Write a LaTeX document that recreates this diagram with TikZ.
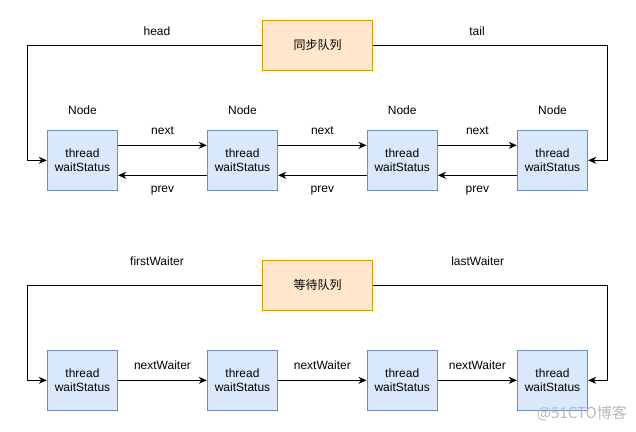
\documentclass[tikz,border=0pt]{standalone}
\usepackage{fontspec}
\setmainfont{Liberation Sans}
\newfontfamily\cjk{Noto Sans CJK SC}
\usetikzlibrary{arrows.meta,calc}
\definecolor{bfill}{HTML}{DAE8FC}
\definecolor{bdraw}{HTML}{6C8EBF}
\definecolor{ofill}{HTML}{FFE6CC}
\definecolor{odraw}{HTML}{D79B00}
\begin{document}
\begin{tikzpicture}[x=1pt,y=-1pt,
  every node/.style={font=\fontsize{12}{14}\selectfont},
  nodebox/.style={draw=bdraw,fill=bfill,line width=1pt,minimum width=70.4pt,minimum height=60pt,inner sep=0pt,align=center},
  queuebox/.style={draw=odraw,fill=ofill,line width=1pt,minimum width=110.4pt,minimum height=50pt,inner sep=0pt,font=\cjk\fontsize{12}{14}\selectfont},
  lbl/.style={inner sep=0pt},
  arr/.style={line width=1pt,-{Stealth[length=8pt,width=7pt,inset=2.5pt]}}
]
\useasboundingbox (0,0) rectangle (636,431);
% top queue
\node[queuebox] (q1) at (317.5,45.3) {同步队列};
\node[nodebox] (a1) at (82.5,160.3) {thread\\waitStatus};
\node[nodebox] (a2) at (242.5,160.3) {thread\\waitStatus};
\node[nodebox] (a3) at (402.2,160.3) {thread\\waitStatus};
\node[nodebox] (a4) at (552.5,160.3) {thread\\waitStatus};
\foreach \i in {1,2,3,4} {\node[lbl] (n\i) at ([yshift=50pt]a\i.center) {Node};}
\coordinate (h1) at (27.3,45.3);
\coordinate (h2) at (27.3,160.3);
\coordinate (t1) at (607.7,45.3);
\coordinate (t2) at (607.7,160.3);
\draw[arr] (q1.west) -- (h1) -- (h2) -- (a1.west);
\draw[arr] (q1.east) -- (t1) -- (t2) -- (a4.east);
\node[lbl] (lh) at (157,31) {head};
\node[lbl] (lt) at (477,31) {tail};
\foreach \i/\j in {1/2,2/3,3/4} {
  \draw[arr] ([yshift=15pt]a\i.east) -- ([yshift=15pt]a\j.west);
  \draw[arr] ([yshift=-15pt]a\j.west) -- ([yshift=-15pt]a\i.east);
  \node[lbl] (nx\i) at ($([yshift=29.6pt]a\i.east)!0.5!([yshift=29.6pt]a\j.west)$) {next};
  \node[lbl] (pv\i) at ($([yshift=-30.7pt]a\i.east)!0.5!([yshift=-30.7pt]a\j.west)$) {prev};
}
% bottom queue
\node[queuebox] (q2) at (317.5,285.3) {等待队列};
\node[nodebox] (b1) at (82.5,380.3) {thread\\waitStatus};
\node[nodebox] (b2) at (242.5,380.3) {thread\\waitStatus};
\node[nodebox] (b3) at (402.2,380.3) {thread\\waitStatus};
\node[nodebox] (b4) at (552.5,380.3) {thread\\waitStatus};
\coordinate (f1) at (27.3,285.3);
\coordinate (f2) at (27.3,380.3);
\coordinate (l1) at (607.7,285.3);
\coordinate (l2) at (607.7,380.3);
\draw[arr] (q2.west) -- (f1) -- (f2) -- (b1.west);
\draw[arr] (q2.east) -- (l1) -- (l2) -- (b4.east);
\node[lbl] (lf) at (157,261) {firstWaiter};
\node[lbl] (ll) at (477.7,261) {lastWaiter};
\foreach \i/\j in {1/2,2/3,3/4} {
  \draw[arr] (b\i.east) -- (b\j.west);
  \node[lbl] (nw\i) at ($([yshift=14.6pt]b\i.east)!0.5!([yshift=14.6pt]b\j.west)$) {nextWaiter};
}
\node[lbl,text=black!28,anchor=east,font=\cjk\fontsize{15}{17}\selectfont] (wm) at (627,413) {@51CTO博客};
\end{tikzpicture}
\end{document}
